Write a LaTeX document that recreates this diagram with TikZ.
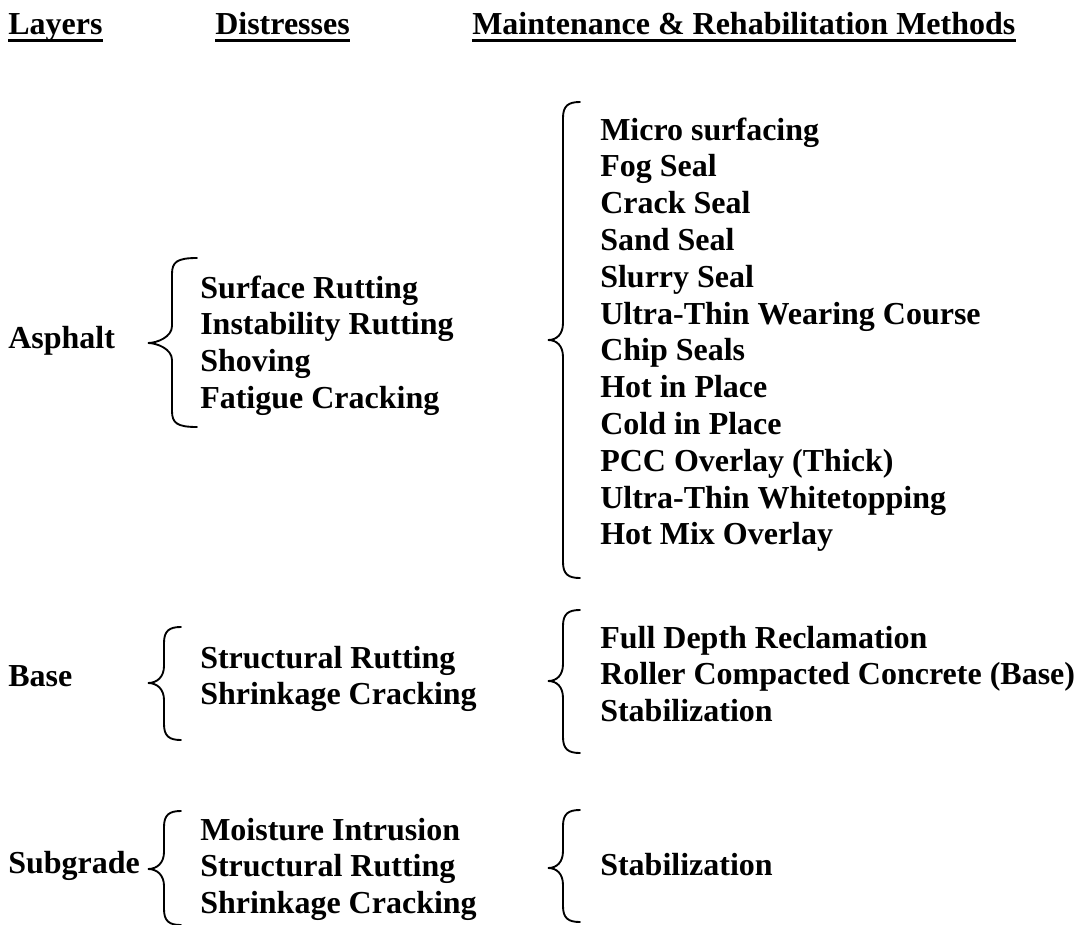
\documentclass[tikz,border=0pt]{standalone}
\usepackage{fontspec}
\setmainfont{Liberation Serif}
\usepackage{tikz}
\usetikzlibrary{calc}

% brace: tip x, line x, end x, top y, tip y, bottom y
\newcommand{\curlbrace}[6]{%
  \draw[brace line] (#3,#4) .. controls ({#2+5},#4) and (#2,{#4+4}) .. (#2,{#4+16})
    -- (#2,{#5-17}) .. controls (#2,{#5-6}) and ({#1+9},#5) .. (#1,#5)
    .. controls ({#1+9},#5) and (#2,{#5+6}) .. (#2,{#5+17})
    -- (#2,{#6-16}) .. controls (#2,{#6-4}) and ({#2+5},#6) .. (#3,#6);
}

\begin{document}
\begin{tikzpicture}[x=0.75pt,y=-0.75pt,
  txt/.style={font=\fontsize{24}{28}\selectfont\bfseries,anchor=base west,inner sep=0pt},
  brace line/.style={line width=1.4pt,line cap=round},
  head rule/.style={line width=2.25pt}]
\useasboundingbox (0,0) rectangle (1076,925);

% column heads
\node[txt] (hlay) at (8,34) {Layers};
\node[txt] (hdis) at (215,34) {Distresses};
\node[txt] (hmet) at (472,34) {Maintenance \& Rehabilitation Methods};
\foreach \h in {hlay,hdis,hmet}
  \draw[head rule] ([yshift=-4.9pt]\h.base west) -- ([yshift=-4.9pt]\h.base east);

% asphalt
\node[txt] (asph) at (8,348) {Asphalt};
\curlbrace{148}{172}{197}{258}{343}{427}
\foreach \t [count=\i] in {Surface Rutting,Instability Rutting,Shoving,Fatigue Cracking}
  \node[txt] (ad\i) at (200,{298+(\i-1)*36.7}) {\t};
\curlbrace{548}{563}{580}{102}{340}{578}
\foreach \t [count=\i] in {Micro surfacing,Fog Seal,Crack Seal,Sand Seal,Slurry Seal,
    Ultra-Thin Wearing Course,Chip Seals,Hot in Place,Cold in Place,
    PCC Overlay (Thick),Ultra-Thin Whitetopping,Hot Mix Overlay}
  \node[txt] (am\i) at (600,{140+(\i-1)*36.8}) {\t};

% base
\node[txt] (base) at (8,686) {Base};
\curlbrace{148}{164}{181}{627}{683}{740}
\foreach \t [count=\i] in {Structural Rutting,Shrinkage Cracking}
  \node[txt] (bd\i) at (200,{668+(\i-1)*36.8}) {\t};
\curlbrace{548}{563}{580}{610}{681}{753}
\foreach \t [count=\i] in {Full Depth Reclamation,Roller Compacted Concrete (Base),Stabilization}
  \node[txt] (bm\i) at (600,{648+(\i-1)*36.8}) {\t};

% subgrade
\node[txt] (subg) at (8,873) {Subgrade};
\curlbrace{148}{164}{181}{811}{869}{925}
\foreach \t [count=\i] in {Moisture Intrusion,Structural Rutting,Shrinkage Cracking}
  \node[txt] (sd\i) at (200,{840+(\i-1)*36.8}) {\t};
\curlbrace{548}{563}{580}{810}{868}{922}
\node[txt] (sm1) at (600,875) {Stabilization};
\end{tikzpicture}
\end{document}
